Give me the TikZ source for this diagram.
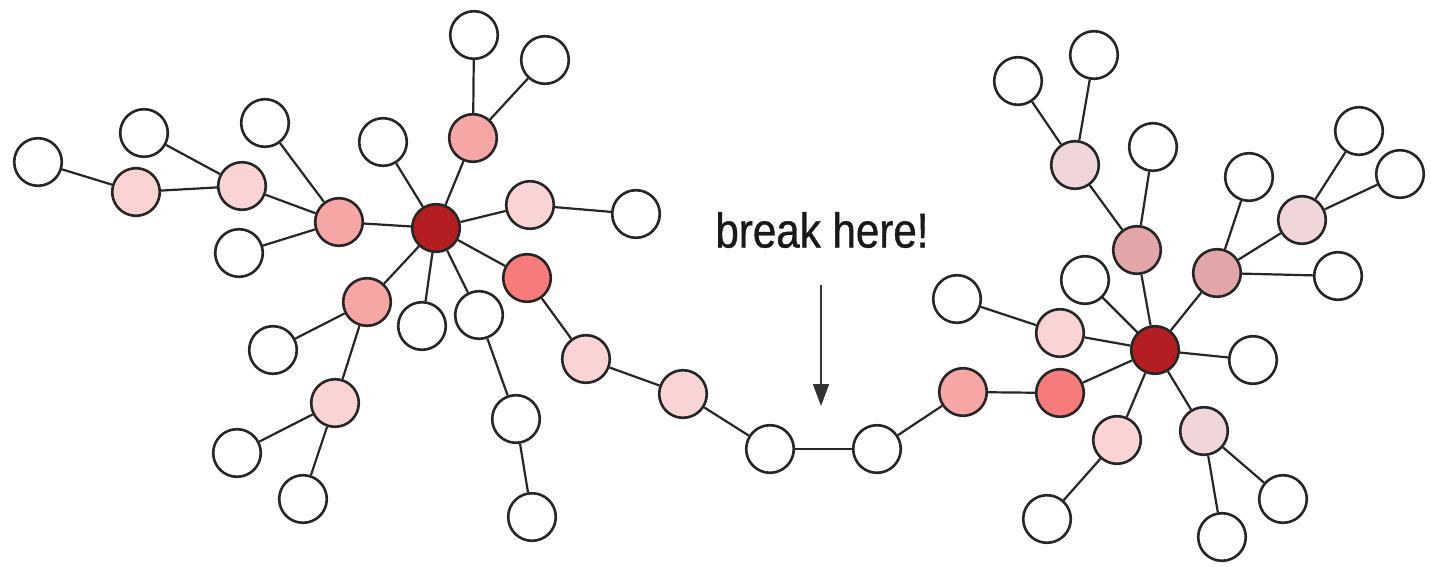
\documentclass[tikz,border=0pt]{standalone}
\usepackage{fontspec}
\newfontfamily\notefont[FakeStretch=0.86, FakeBold=0.8]{Liberation Sans}
\usetikzlibrary{arrows.meta}

\definecolor{hubred}{RGB}{180,30,34}
\definecolor{salmon}{RGB}{247,123,123}
\definecolor{midpink}{RGB}{247,166,166}
\definecolor{litepink}{RGB}{250,212,212}
\definecolor{dustpink}{RGB}{226,166,168}
\definecolor{palepink}{RGB}{240,214,216}

\tikzset{
  vtx/.style={circle, draw=black!85, line width=1.3pt, minimum size=23.8pt, inner sep=0pt, fill=white},
  hub/.style={vtx, fill=hubred},
  salm/.style={vtx, fill=salmon},
  mid/.style={vtx, fill=midpink},
  lite/.style={vtx, fill=litepink},
  dust/.style={vtx, fill=dustpink},
  pale/.style={vtx, fill=palepink},
  edge/.style={draw=black!85, line width=1.1pt}
}

\begin{document}
\begin{tikzpicture}[x=0.5pt, y=-0.5pt]
    \useasboundingbox (0,0) rectangle (1431,567);

    % left cluster
    \node[hub]  (hubL) at (436,228) {};
    \node[vtx]  (w1)  at (38,162) {};
    \node[lite] (p1)  at (136,192) {};
    \node[vtx]  (w2)  at (144,133) {};
    \node[lite] (p2)  at (242,186) {};
    \node[vtx]  (w3)  at (265,123) {};
    \node[vtx]  (w4)  at (239,253) {};
    \node[mid]  (p3)  at (339,222) {};
    \node[vtx]  (w5)  at (383,142) {};
    \node[mid]  (p4)  at (473,138) {};
    \node[vtx]  (w6)  at (474,35) {};
    \node[vtx]  (w7)  at (545,60) {};
    \node[lite] (p5)  at (530,205) {};
    \node[vtx]  (w8)  at (636,214) {};
    \node[salm] (p6)  at (527,278) {};
    \node[mid]  (p7)  at (367,302) {};
    \node[vtx]  (w9)  at (273,350) {};
    \node[vtx]  (w10) at (422,326) {};
    \node[vtx]  (w11) at (479,315) {};
    \node[lite] (p8)  at (335,403) {};
    \node[vtx]  (w12) at (237,453) {};
    \node[vtx]  (w13) at (303,499) {};
    \node[vtx]  (w14) at (516,419) {};
    \node[vtx]  (w15) at (532,517) {};

    % bridge
    \node[lite] (p9)  at (586,359) {};
    \node[lite] (p10) at (683,394) {};
    \node[vtx]  (w16) at (770,449) {};
    \node[vtx]  (w17) at (877,449) {};
    \node[mid]  (p11) at (963,392) {};
    \node[salm] (p13) at (1060,393) {};

    % right cluster
    \node[hub]  (hubR) at (1155,350) {};
    \node[lite] (p12) at (1060,333) {};
    \node[vtx]  (w18) at (957,299) {};
    \node[vtx]  (w31) at (1085,280) {};
    \node[dust] (p17) at (1137,250) {};
    \node[pale] (p16) at (1075,165) {};
    \node[vtx]  (w24) at (1018,81) {};
    \node[vtx]  (w25) at (1094,55) {};
    \node[vtx]  (w26) at (1153,147) {};
    \node[dust] (p18) at (1217,273) {};
    \node[vtx]  (w27) at (1249,177) {};
    \node[pale] (p19) at (1302,220) {};
    \node[vtx]  (w28) at (1359,131) {};
    \node[vtx]  (w29) at (1400,174) {};
    \node[vtx]  (w30) at (1338,276) {};
    \node[vtx]  (w19) at (1253,360) {};
    \node[lite] (p14) at (1117,440) {};
    \node[vtx]  (w20) at (1047,519) {};
    \node[pale] (p15) at (1204,431) {};
    \node[vtx]  (w21) at (1283,499) {};
    \node[vtx]  (w22) at (1222,537) {};

    \foreach \a/\b in {w1/p1, p1/p2, w2/p2, p2/p3, w3/p3, w4/p3, p3/hubL,
        w5/hubL, p4/hubL, w6/p4, w7/p4, p5/hubL, p5/w8, p6/hubL,
        p7/hubL, p7/w9, p7/p8, p8/w12, p8/w13, w10/hubL, w11/hubL,
        w11/w14, w14/w15,
        p6/p9, p9/p10, p10/w16, w16/w17, w17/p11, p11/p13, p13/hubR,
        w18/p12, p12/hubR, w31/hubR, p17/hubR, p17/p16, p17/w26,
        p16/w24, p16/w25, p18/hubR, p18/w27, p18/p19, p18/w30,
        p19/w28, p19/w29, w19/hubR, p14/hubR, p14/w20, p15/hubR,
        p15/w21, p15/w22}
      \draw[edge] (\a) -- (\b);

    % label and arrow
    \node[font=\notefont\fontsize{24.5}{28}\selectfont, text=black!90] (note) at (822,230) {break here!};
    \coordinate (tail) at (821,285);
    \coordinate (tip) at (821,406);
    \draw[black!80, line width=0.8pt, -{Triangle[length=11pt, width=8pt]}] (tail) -- (tip);
\end{tikzpicture}
\end{document}
